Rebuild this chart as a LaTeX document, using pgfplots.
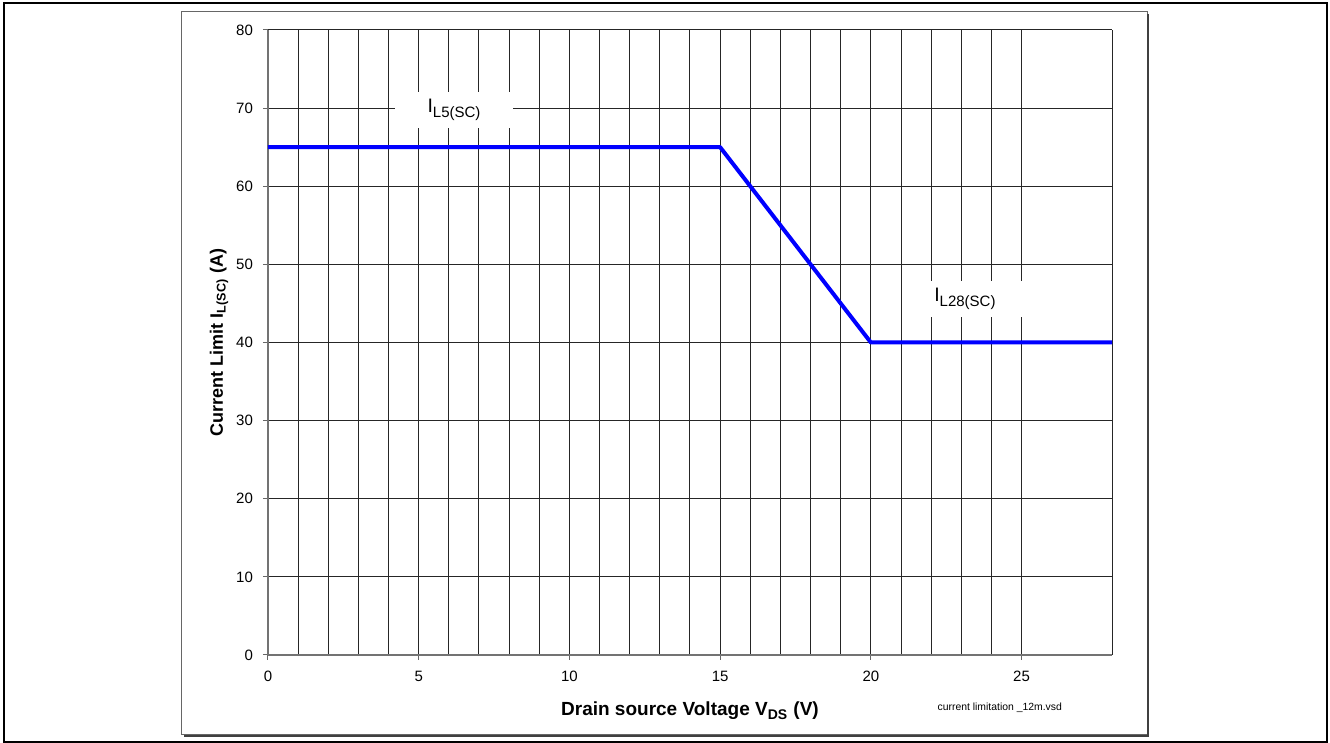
\documentclass[border=0pt]{standalone}
\usepackage{pgfplots}
\pgfplotsset{compat=1.18}
\usepackage{fontspec}
\setmainfont{Liberation Sans}
\definecolor{curveblue}{RGB}{0,0,255}
\begin{document}
\begin{tikzpicture}
  \useasboundingbox (-134pt,-44pt) rectangle (531pt,327.5pt);
  % outer and inner frames
  \draw[black, line width=0.7pt] (-132pt,-43.5pt) rectangle (529.5pt,326pt);
  \draw[black!60, line width=0.5pt] (-43pt,-40pt) rectangle (439.5pt,321.5pt);
  \draw[black!75, line width=0.8pt] (440pt,320.5pt) -- (440pt,-40.5pt) -- (-42pt,-40.5pt);
  \begin{axis}[
      at={(0,0)}, anchor=south west,
      scale only axis,
      width=422pt, height=312.5pt,
      xmin=0, xmax=28, ymin=0, ymax=80,
      enlargelimits=false,
      axis x line*=bottom,
      axis y line*=left,
      axis line style={black!55, line width=0.8pt},
      xtick={0,5,...,25},
      minor x tick num=4,
      extra x ticks={28},
      extra x tick labels={},
      extra x tick style={major tick length=0pt, grid=major},
      ytick={0,10,...,80},
      grid=both,
      major grid style={black!85, line width=0.5pt},
      minor grid style={black!85, line width=0.5pt},
      tick align=outside,
      major tick length=2.5pt,
      minor tick length=0pt,
      tick style={black!60, line width=0.5pt},
      tick label style={font=\fontsize{7.5}{9}\selectfont},
      /pgf/number format/assume math mode=true,
      xticklabel style={yshift=-2pt},
      yticklabel style={xshift=-1.5pt},
      xlabel={\textbf{Drain source Voltage V\textsubscript{\fontsize{7}{8}\selectfont DS} (V)}},
      ylabel={\textbf{Current Limit I\textsubscript{\fontsize{6.3}{7}\selectfont L(SC)} (A)}},
      label style={font=\fontsize{9.5}{11}\selectfont},
      y label style={font=\fontsize{9}{11}\selectfont},
      x label style={at={(axis description cs:0.5,-0.0896)}, anchor=center},
      y label style={at={(axis description cs:-0.058,0.5)}, anchor=center},
      clip=false,
    ]
    \addplot[curveblue, line width=2pt, line join=round] coordinates {
      (0,65) (15,65) (20,40) (28,40)
    };
    \node[fill=white, minimum width=59pt, minimum height=18pt, inner sep=0pt]
      at (axis cs:6.17,69.8)
      {{\fontsize{9.75}{10}\selectfont I}\raisebox{-2.5pt}{\fontsize{7.5}{8}\selectfont L5(SC)}};
    \node[fill=white, minimum width=60pt, minimum height=18pt, inner sep=0pt]
      at (axis cs:23.12,45.6)
      {{\fontsize{9.75}{10}\selectfont I}\raisebox{-2.5pt}{\fontsize{7.5}{8}\selectfont L28(SC)}};
    \node[anchor=center, font=\fontsize{5.2}{6}\selectfont]
      at (axis description cs:0.867,-0.0848) {current limitation \_12m.vsd};
  \end{axis}
\end{tikzpicture}
\end{document}
